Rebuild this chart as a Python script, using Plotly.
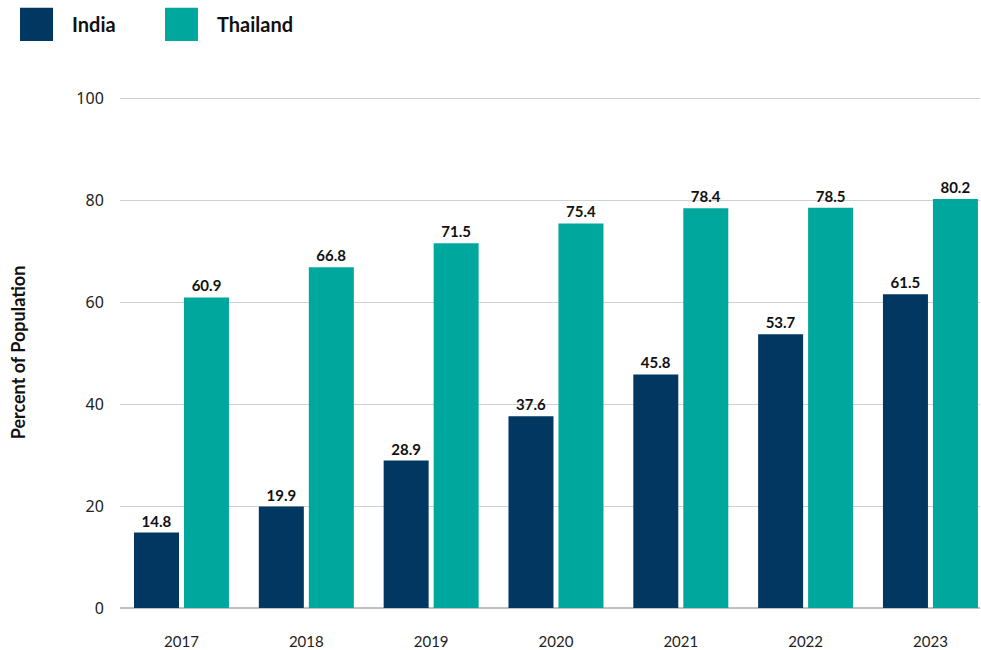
import plotly.graph_objects as go

years = ["2017", "2018", "2019", "2020", "2021", "2022", "2023"]
india = [14.8, 19.9, 28.9, 37.6, 45.8, 53.7, 61.5]
thailand = [60.9, 66.8, 71.5, 75.4, 78.4, 78.5, 80.2]
series_names = ["India", "Thailand"]
colors = ["#023761", "#00A79D"]

fig = go.Figure()
for name, vals, col in zip(series_names, [india, thailand], colors):
    fig.add_trace(go.Bar(
        x=years, y=vals, name=name, marker_color=col, marker_line_width=0,
        text=[f"{v:.1f}" for v in vals], textposition="outside",
        textfont=dict(family="Lato", size=15, color="#111111", weight="bold"),
        cliponaxis=False, showlegend=False,
    ))

# custom legend
legend_x = [20, 165]
for name, col, lx in zip(series_names, colors, legend_x):
    fig.add_shape(type="rect", xref="paper", yref="paper",
                  x0=(lx - 120) / 860, x1=(lx + 33 - 120) / 860,
                  y0=(608 - 42) / 510, y1=(608 - 9) / 510,
                  fillcolor=col, line_width=0, layer="above")
    fig.add_annotation(xref="paper", yref="paper", x=(lx + 50 - 120) / 860,
                       y=(608 - 25.5) / 510, text=f"<b>{name}</b>", showarrow=False,
                       xanchor="left", yanchor="middle",
                       font=dict(family="Lato", size=20, color="#111111"))

fig.update_layout(
    width=981, height=650,
    margin=dict(l=120, r=1, t=97, b=42),
    plot_bgcolor="white", paper_bgcolor="white",
    barmode="group", bargap=0.199, bargroupgap=0.1,
    font=dict(family="Lato", color="#222222"),
    xaxis=dict(tickfont=dict(size=15, family="Lato"), ticks="outside", ticklen=20,
               tickcolor="rgba(0,0,0,0)", showline=False, showgrid=False,
               range=[-0.4927, 6.397]),
    yaxis=dict(range=[0, 100.2], tickvals=[0, 20, 40, 60, 80, 100],
               showgrid=True, gridcolor="#d0d0d0", gridwidth=1,
               zeroline=True, zerolinecolor="#c0c0c0", zerolinewidth=1.5,
               tickfont=dict(size=16, family="Noto Sans"), ticks="outside", ticklen=12,
               tickcolor="rgba(0,0,0,0)",
               title=dict(text="<b>Percent of Population</b>", standoff=46,
                          font=dict(size=18, family="Lato", color="#111111"))),
)

fig.write_html("out.html")
